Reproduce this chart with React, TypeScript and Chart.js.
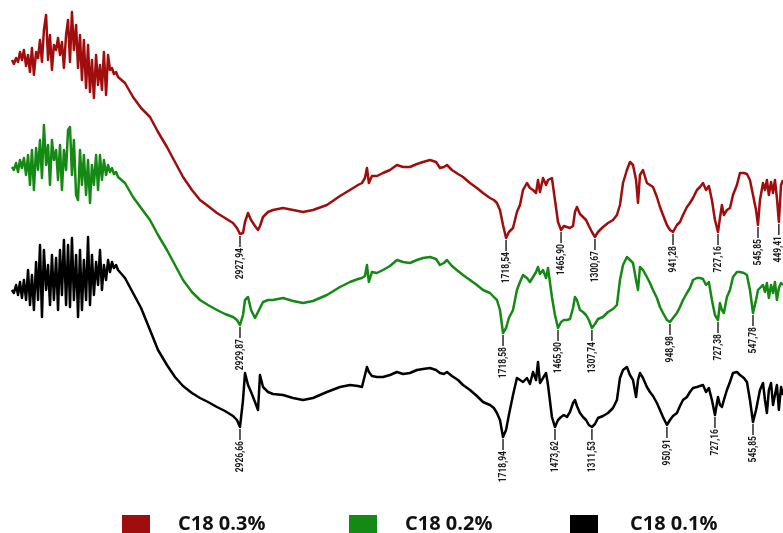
import React, { useEffect, useRef } from "react";
import { Chart, registerables } from "chart.js";

Chart.register(...registerables);

// Wavenumber (cm-1), shared by the three spectra
const wavenumbers = [
  3977, 3968, 3958, 3949, 3940, 3931, 3922, 3912, 3903, 3894,
  3885, 3876, 3866, 3857, 3848, 3839, 3830, 3820, 3811, 3802,
  3793, 3784, 3774, 3765, 3756, 3747, 3738, 3728, 3719, 3710,
  3701, 3692, 3682, 3673, 3664, 3655, 3646, 3636, 3627, 3618,
  3609, 3600, 3590, 3581, 3572, 3563, 3554, 3544, 3535, 3526,
  3517, 3508, 3498, 3489,
  3457, 3420, 3383, 3342, 3305, 3264, 3227, 3190, 3149, 3112,
  3075, 3034, 2997, 2960, 2942, 2928, 2914, 2905, 2891, 2877,
  2859, 2845, 2836, 2822, 2799, 2776, 2730, 2684, 2638, 2592,
  2528, 2468, 2422, 2385, 2367, 2353, 2344, 2335, 2321, 2298,
  2270, 2238, 2206, 2178, 2146, 2114, 2086, 2054, 2026, 2008,
  1990, 1976, 1953, 1925, 1902, 1870, 1838, 1810, 1778, 1760,
  1746, 1732, 1718, 1704, 1691, 1672, 1654, 1640, 1626, 1608,
  1594, 1580, 1566, 1557, 1548, 1534, 1520, 1511, 1493, 1479,
  1465, 1451, 1438, 1424, 1410, 1396, 1387, 1378, 1364, 1350,
  1336, 1323, 1309, 1295, 1281, 1258, 1235, 1212, 1194, 1180,
  1166, 1148, 1134, 1120, 1106, 1097, 1088, 1074, 1056, 1042,
  1028, 1010, 996, 982, 964, 950, 936, 918, 904, 890,
  872, 858, 844, 826, 812, 798, 784, 771, 757, 743,
  729, 720, 711, 702, 688, 674, 660, 642, 628, 610,
  596, 582, 568, 554, 545, 536, 522, 513, 504, 495,
  485, 476, 467, 458, 449, 439, 430,
];

// Transmittance (offset, arbitrary units)
const c18_03 = [
  88, 87.2, 88.4, 87.6, 89.6, 88, 90, 86.8, 89, 85.6,
  90.4, 85, 89.6, 88.4, 92, 87.6, 94, 97, 88, 93,
  86, 91, 90, 92.4, 89, 91.6, 86.4, 93, 96, 87.6,
  97.6, 90, 95, 86.4, 93, 84, 92, 82.4, 91, 81.6,
  88, 80.4, 89, 83, 87, 82, 89.6, 81, 89, 86,
  86.4, 85.2, 85.6, 84.6,
  83.4, 80.6, 78.4, 76.6, 73.6, 70.6, 67.6, 64.6, 62, 60,
  58.8, 57.4, 56.4, 55.4, 54.4, 53.2, 53.4, 55.6, 57.4, 56,
  54.8, 54, 54.8, 56.6, 57.6, 58, 58.4, 58, 57.6, 58,
  59, 60.8, 62, 63, 63.4, 64.4, 66.4, 63.4, 64.8, 64.8,
  65.4, 66, 67, 66.6, 66.6, 67.2, 67.6, 68, 67.6, 66.4,
  66.6, 67, 66, 65.2, 64.6, 63.4, 62.4, 61.4, 60.4, 60,
  59.4, 58, 55, 52.4, 53.6, 54.4, 57.6, 59, 62, 63.4,
  62.4, 62, 61.4, 64, 61.6, 64.4, 63, 64, 64.4, 60,
  55.6, 54, 54.8, 54.6, 54.4, 54.8, 57.6, 58.6, 57.2, 56.6,
  56, 54.8, 53.6, 52.6, 53.6, 54.6, 55.4, 56, 57, 59,
  63.4, 66, 67.6, 67, 64, 59.4, 65, 66, 63.4, 63,
  62.6, 60.6, 58.6, 57, 55, 54, 53.6, 55, 55.6, 57,
  58.6, 59.4, 60.4, 62, 62.6, 63.4, 62, 62.8, 60, 56,
  53.6, 56.4, 59, 57, 58, 58.4, 61, 63, 65.4, 65.4,
  65.2, 64, 61, 58, 55, 60, 63.4, 62, 64, 61,
  63.6, 61.4, 64, 60.4, 55.6, 63, 64,
];

const c18_02 = [
  66.6, 66, 67.4, 65.6, 68, 66.4, 68.4, 65, 69, 63,
  70, 62, 70.4, 66, 72, 64.4, 75, 67, 71, 63,
  72, 68, 70, 64, 71, 62, 70, 66, 74, 74.6,
  65, 72, 61, 60, 70, 63, 69, 61, 68, 59.4,
  67, 63, 69, 62, 69, 64, 68, 65, 67, 65.6,
  66.4, 65.2, 65.6, 64.6,
  63.4, 60.6, 58.4, 56, 53, 50, 47, 44, 41.6, 40,
  39, 38, 37.2, 36.6, 36, 35, 37, 40, 40.6, 38,
  36.4, 37.6, 38.4, 39.6, 40, 40, 40.4, 39.8, 39.4, 39.8,
  41, 42.6, 43.6, 44.2, 44.4, 44.8, 47, 43.6, 45.6, 45.4,
  46, 46.8, 48, 47.6, 47.4, 48, 48.4, 48.6, 48.2, 47,
  47.4, 48, 46.8, 45.8, 45, 44, 43, 42, 41.4, 40.6,
  40, 38, 33.4, 34.4, 36.4, 38, 42, 43.6, 45, 44.4,
  43.6, 44.6, 45.6, 46.6, 45.2, 46, 44.4, 46.4, 40.6, 37,
  34.4, 35.6, 36, 36, 36.2, 38.4, 40.6, 40, 38, 37.6,
  37, 36, 34.4, 35.2, 36.2, 36.6, 37.6, 38.2, 39, 44,
  47, 48.6, 48, 47.4, 44, 42, 46.6, 46, 44.6, 43.4,
  42, 40.4, 38.6, 37.4, 36, 35.6, 36.4, 37.4, 38.6, 40,
  41.4, 42.4, 44, 44.4, 44.4, 44.2, 43, 43.6, 40, 37,
  36, 39.4, 38, 37.4, 40.6, 42, 44.6, 45.6, 45.6, 45.4,
  45, 42, 37.4, 40, 42, 42.4, 43, 41.6, 43.4, 40.4,
  43, 41.4, 43.6, 40, 42.4, 43.4, 43,
];

const c18_01 = [
  42, 41.4, 43, 41, 43.6, 40.4, 44, 40, 46, 39,
  45, 38, 47.6, 40, 51, 36.6, 50, 42, 47, 39,
  49, 40, 48.4, 38, 50, 41, 52, 39, 51, 38.6,
  52.4, 40, 49, 36.6, 50, 38, 48, 40, 52.6, 39,
  49, 41, 47.6, 43, 50, 42, 47, 44, 48, 45.6,
  47.6, 46.4, 47, 46,
  44.4, 41.4, 38.4, 34, 30, 27, 24.6, 22.8, 21.4, 20.4,
  19.6, 18.6, 17.8, 16.8, 16, 14.6, 20, 25.4, 23, 21.6,
  19.6, 18, 25, 22.6, 21.6, 21.2, 21, 20.4, 20, 20.4,
  21.6, 22.6, 23, 22.8, 22.6, 25, 26.6, 25.6, 24.8, 24.6,
  24.6, 25, 25.6, 25.2, 25.4, 26, 26.2, 26.4, 26, 25.4,
  25.2, 25.6, 24.8, 24, 23, 22, 20.8, 19.6, 19, 18.4,
  17.4, 16, 12.6, 14, 17, 21, 24.4, 24, 23.6, 24.4,
  23.2, 25.6, 24, 27.6, 23.4, 24.4, 25.4, 23, 16.6, 14.6,
  16, 16.6, 17, 16.6, 17.6, 19.4, 20, 18.8, 17.4, 16.6,
  16, 15, 14.6, 15.2, 16.4, 16.8, 17.4, 18.4, 20, 24.4,
  26, 26.6, 25, 24, 20.6, 24, 25.4, 24.4, 22.6, 21.6,
  20.8, 19.4, 18, 16.6, 15, 16, 16.8, 17.4, 18.8, 20,
  20.6, 21.6, 22.4, 22.6, 22.8, 23, 21.6, 22.4, 20, 17,
  20.6, 19, 18.6, 20, 22, 23.6, 25.4, 25.6, 25, 24.4,
  23.6, 20, 15.6, 18, 20, 22, 23.4, 20, 17.4, 22,
  23.4, 19, 21, 23, 18, 22.6, 21,
];

const seriesNames = ["C18 0.3%", "C18 0.2%", "C18 0.1%"];
const seriesColors = ["#a00d0d", "#148a14", "#000000"];

// Labelled band positions (cm-1)
const peaks03 = [2927.94, 1718.54, 1465.9, 1300.67, 941.28, 727.16, 545.85, 449.41];
const peaks02 = [2929.87, 1718.58, 1465.9, 1307.74, 948.98, 727.38, 547.78];
const peaks01 = [2926.66, 1718.94, 1473.62, 1311.53, 950.91, 727.16, 545.85];

const seriesValues = [c18_03, c18_02, c18_01];
const peakSets = [peaks03, peaks02, peaks01];

const fmt = (v: number) => v.toFixed(2).replace(".", ",");

const peakLabelPlugin = {
  id: "peakLabels",
  afterDatasetsDraw(chart: any) {
    const ctx = chart.ctx;
    const xs = chart.scales.x;
    const ys = chart.scales.y;
    ctx.save();
    ctx.fillStyle = "#1a1a1a";
    ctx.strokeStyle = "#1a1a1a";
    ctx.lineWidth = 1.4;
    ctx.font = "bold 10px Roboto, 'DejaVu Sans', sans-serif";
    peakSets.forEach((peaks, di) => {
      const data = chart.data.datasets[di].data as { x: number; y: number }[];
      peaks.forEach((wn) => {
        const target = xs.getPixelForValue(wn);
        let bx = target;
        let by = -Infinity;
        data.forEach((p) => {
          const px = xs.getPixelForValue(p.x);
          if (Math.abs(px - target) <= 6) {
            const py = ys.getPixelForValue(p.y);
            if (py > by) {
              by = py;
              bx = px;
            }
          }
        });
        ctx.beginPath();
        ctx.moveTo(bx, by + 2);
        ctx.lineTo(bx, by + 13);
        ctx.stroke();
        ctx.save();
        ctx.translate(bx, by + 14);
        ctx.rotate(-Math.PI / 2);
        ctx.scale(0.85, 1.05);
        ctx.textAlign = "right";
        ctx.textBaseline = "middle";
        ctx.fillText(fmt(wn), 0, 0);
        ctx.restore();
      });
    });
    ctx.restore();
  },
};

const legendBoxX = [122, 349, 570];
const legendTextX = [178, 405, 630];

const legendPlugin = {
  id: "bottomLegend",
  afterDraw(chart: any) {
    const ctx = chart.ctx;
    ctx.save();
    ctx.font = "bold 20px 'Open Sans', sans-serif";
    ctx.textBaseline = "alphabetic";
    ctx.textAlign = "left";
    seriesNames.forEach((name, i) => {
      ctx.fillStyle = seriesColors[i];
      ctx.fillRect(legendBoxX[i], 515, 28, 22);
      ctx.fillStyle = "#111111";
      ctx.fillText(name, legendTextX[i], 530);
    });
    ctx.restore();
  },
};

export default function App() {
  const canvasRef = useRef<HTMLCanvasElement | null>(null);

  useEffect(() => {
    if (!canvasRef.current) return;
    const chart = new Chart(canvasRef.current, {
      type: "line",
      data: {
        datasets: seriesValues.map((vals, i) => ({
          label: seriesNames[i],
          data: wavenumbers.map((w, k) => ({ x: w, y: vals[k] })),
          borderColor: seriesColors[i],
          borderWidth: 2.5,
          borderJoinStyle: "round" as const,
          pointRadius: 0,
          tension: 0,
          fill: false,
        })),
      },
      options: {
        animation: false,
        responsive: false,
        maintainAspectRatio: false,
        layout: { padding: 0 },
        plugins: {
          legend: { display: false },
          tooltip: { enabled: false },
        },
        scales: {
          x: { type: "linear", reverse: true, min: 430, max: 4032, display: false },
          y: { type: "linear", min: -6.6, max: 100, display: false },
        },
      },
      plugins: [peakLabelPlugin, legendPlugin],
    });
    return () => chart.destroy();
  }, []);

  return (
    <div style={{ position: "fixed", left: 0, top: 0, width: 783, height: 533, background: "#ffffff" }}>
      <canvas ref={canvasRef} width={783} height={533} />
    </div>
  );
}
